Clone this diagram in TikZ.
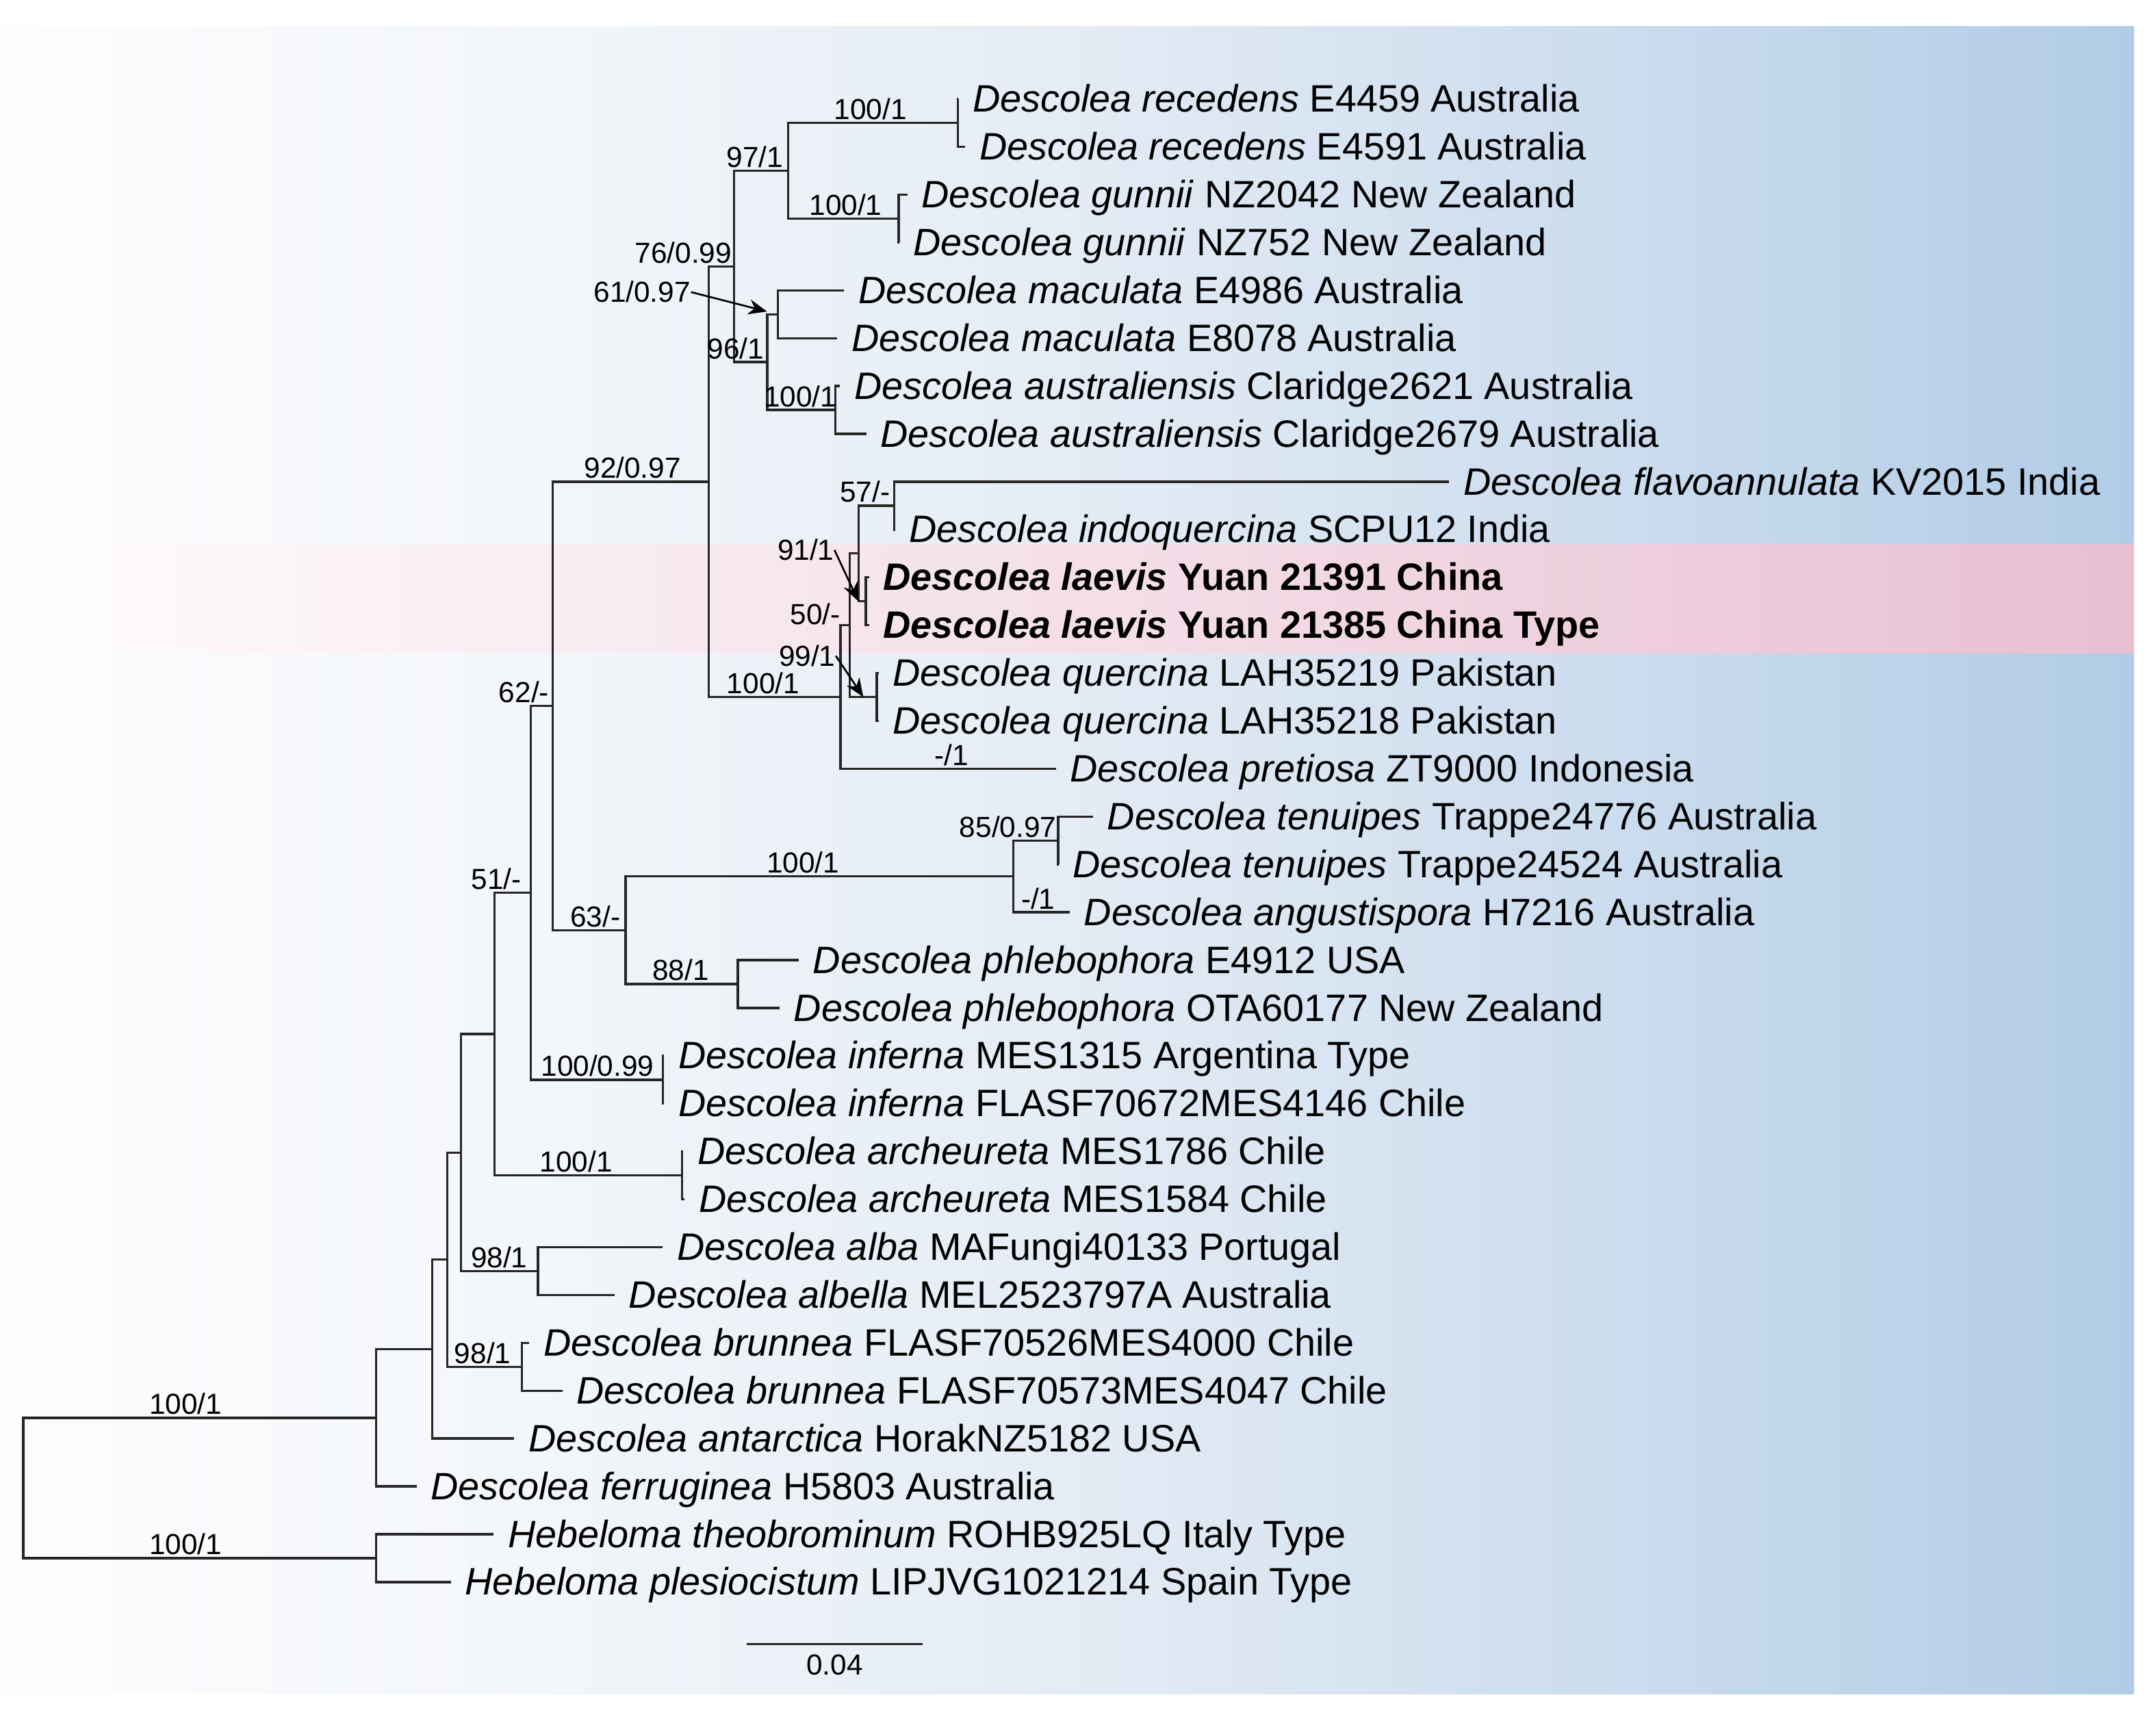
\documentclass[tikz,border=0pt]{standalone}
\usepackage{fontspec}
\setmainfont{Liberation Sans}
\usetikzlibrary{arrows.meta, calc}

\definecolor{linegray}{HTML}{262626}
\definecolor{bgA}{HTML}{FCFDFE}
\definecolor{bgB}{HTML}{F3F6FA}
\definecolor{bgC}{HTML}{E4ECF5}
\definecolor{bgD}{HTML}{CCDDEE}
\definecolor{bgE}{HTML}{B1CCE6}
\definecolor{pinkA}{HTML}{FDF9FB}
\definecolor{pinkB}{HTML}{F4DEE8}
\definecolor{pinkC}{HTML}{E8BFD1}

% path box is mapped onto 25bp..75bp
\pgfdeclarehorizontalshading{treebg}{100bp}{color(0bp)=(bgA); color(25bp)=(bgA); color(37.5bp)=(bgB); color(50bp)=(bgC); color(62.5bp)=(bgD); color(75bp)=(bgE); color(100bp)=(bgE)}
\pgfdeclarehorizontalshading{bandbg}{100bp}{color(0bp)=(pinkA); color(25bp)=(pinkA); color(50bp)=(pinkB); color(75bp)=(pinkC); color(100bp)=(pinkC)}

\begin{document}
\begin{tikzpicture}[x=0.02cm, y=-0.02cm,
    branch/.style={draw=linegray, line width=0.95pt},
    leaflab/.style={anchor=base west, inner sep=0pt, xshift=0.2cm, yshift=-0.19cm, font=\fontsize{15.8}{19}\selectfont},
    supp/.style={anchor=base, inner sep=0pt, font=\fontsize{12}{14}\selectfont},
    pointer/.style={draw=black, line width=0.75pt, -{Stealth[length=2.7mm, width=2.2mm]}}]
    % Units: 1 = one pixel of the 1568 x 1250 figure, y grows downwards.
    \useasboundingbox (0,0) rectangle (1568,1250);

    % Background panel and the highlighted rows of the new species
    \shade[shading=treebg] (0,19) rectangle (1552,1232);
    \shade[shading=bandbg] (83,396) rectangle (1552,475);

    % Leaf tips (row i sits at 72 + (i-1)*34.8) and their names
    \foreach \i/\x/\g/\s/\r in {
        1/697/Descolea/recedens/E4459 Australia,
        2/702/Descolea/recedens/E4591 Australia,
        3/660/Descolea/gunnii/NZ2042 New Zealand,
        4/654/Descolea/gunnii/NZ752 New Zealand,
        5/614/Descolea/maculata/E4986 Australia,
        6/609/Descolea/maculata/E8078 Australia,
        7/611/Descolea/australiensis/Claridge2621 Australia,
        8/630/Descolea/australiensis/Claridge2679 Australia,
        9/1054/Descolea/flavoannulata/KV2015 India,
        10/651/Descolea/indoquercina/SCPU12 India,
        13/639/Descolea/quercina/LAH35219 Pakistan,
        14/639/Descolea/quercina/LAH35218 Pakistan,
        15/768/Descolea/pretiosa/ZT9000 Indonesia,
        16/795/Descolea/tenuipes/Trappe24776 Australia,
        17/770/Descolea/tenuipes/Trappe24524 Australia,
        18/778/Descolea/angustispora/H7216 Australia,
        19/581/Descolea/phlebophora/E4912 USA,
        20/567/Descolea/phlebophora/OTA60177 New Zealand,
        21/483/Descolea/inferna/MES1315 Argentina Type,
        22/483/Descolea/inferna/FLASF70672MES4146 Chile,
        23/497/Descolea/archeureta/MES1786 Chile,
        24/498/Descolea/archeureta/MES1584 Chile,
        25/482/Descolea/alba/MAFungi40133 Portugal,
        26/447/Descolea/albella/MEL2523797A Australia,
        27/385/Descolea/brunnea/FLASF70526MES4000 Chile,
        28/409/Descolea/brunnea/FLASF70573MES4047 Chile,
        29/374/Descolea/antarctica/HorakNZ5182 USA,
        30/303/Descolea/ferruginea/H5803 Australia,
        31/359/Hebeloma/theobrominum/ROHB925LQ Italy Type,
        32/328/Hebeloma/plesiocistum/LIPJVG1021214 Spain Type}{
        \coordinate (l\i) at (\x,{72+(\i-1)*34.8});
        \node[leaflab] (t\i) at (l\i) {\textit{\g\ \s} \r};
    }
    \foreach \i/\r in {11/Yuan 21391 China, 12/Yuan 21385 China Type}{
        \coordinate (l\i) at (632,{72+(\i-1)*34.8});
        \node[leaflab, font=\fontsize{15.8}{19}\selectfont\bfseries] (t\i) at (l\i) {\textit{Descolea laevis} \r};
    }

    % Internal nodes
    \coordinate (root)  at (17,1082.35);
    \coordinate (D0)    at (273.5,1031.3);
    \coordinate (H)     at (273.5,1133.4);
    \coordinate (D1)    at (314.5,981.35);
    \coordinate (D2)    at (325.2,916.3);
    \coordinate (D3)    at (335.3,838.4);
    \coordinate (D4)    at (359.5,752.2);
    \coordinate (Nbrun) at (379.5,994.2);
    \coordinate (Nalba) at (391.2,924.6);
    \coordinate (Narch) at (496,855);
    \coordinate (D5)    at (386,649.45);
    \coordinate (Ninf)  at (482,785.4);
    \coordinate (D6)    at (402,513.5);
    \coordinate (D7)    at (515.3,350.4);
    \coordinate (D8)    at (455,676.65);
    \coordinate (Nten)  at (737,637.5);
    \coordinate (Nten2) at (769.6,611.4);
    \coordinate (Nphl)  at (536.6,715.8);
    \coordinate (Naus)  at (533.7,193.8);
    \coordinate (N97)   at (573.1,124.2);
    \coordinate (Nrec)  at (696.5,89.4);
    \coordinate (Ngun)  at (653.6,159);
    \coordinate (N96)   at (558,263.4);
    \coordinate (Nmac)  at (565.8,228.6);
    \coordinate (Nausl) at (607.5,298.2);
    \coordinate (Nasia) at (611.3,507);
    \coordinate (N50)   at (618,454.8);
    \coordinate (N91)   at (624.3,402.6);
    \coordinate (N57)   at (650.4,367.8);
    \coordinate (Nlaev) at (629.7,437.4);
    \coordinate (Nquer) at (637.7,507);

    % Branches: parent / upper child / lower child
    \foreach \p/\a/\b in {root/D0/H, H/l31/l32, D0/D1/l30, D1/D2/l29, D2/D3/Nbrun,
        Nbrun/l27/l28, D3/D4/Nalba, Nalba/l25/l26, D4/D5/Narch, Narch/l23/l24,
        D5/D6/Ninf, Ninf/l21/l22, D6/D7/D8, D8/Nten/Nphl, Nten/Nten2/l18,
        Nten2/l16/l17, Nphl/l19/l20, D7/Naus/Nasia, Naus/N97/N96, N97/Nrec/Ngun,
        Nrec/l1/l2, Ngun/l3/l4, N96/Nmac/Nausl, Nmac/l5/l6, Nausl/l7/l8,
        Nasia/N50/l15, N50/N91/Nquer, N91/N57/Nlaev, N57/l9/l10, Nlaev/l11/l12,
        Nquer/l13/l14}
        \draw[branch] (\a) -| (\p) |- (\b);

    % Support values (ML bootstrap / Bayesian PP)
    \node[supp] (sD0)   at (135,1028.8) {100/1};
    \node[supp] (sH)    at (135,1130.9) {100/1};
    \node[supp] (sBrun) at (351,991.7) {98/1};
    \node[supp] (sAlba) at (363,922.1) {98/1};
    \node[supp] (sArch) at (419,852.5) {100/1};
    \node[supp] (sInf)  at (434.5,782.9) {100/0.99};
    \node[supp] (sD5)   at (361,646.9) {51/-};
    \node[supp] (sD6)   at (381,511) {62/-};
    \node[supp] (sD8)   at (433,674.1) {63/-};
    \node[supp] (sPhl)  at (495,713.3) {88/1};
    \node[supp] (sTen)  at (584,635) {100/1};
    \node[supp] (sTen2) at (733,608.9) {85/0.97};
    \node[supp] (sAng)  at (755,661.1) {-/1};
    \node[supp] (sD7)   at (460,347.9) {92/0.97};
    \node[supp] (sAus)  at (497,191.3) {76/0.99};
    \node[supp] (s97)   at (549,121.7) {97/1};
    \node[supp] (sRec)  at (633,86.9) {100/1};
    \node[supp] (sGun)  at (615,156.5) {100/1};
    \node[supp] (s96)   at (535,260.9) {96/1};
    \node[supp] (sAusl) at (582,295.7) {100/1};
    \node[supp] (sAsia) at (555,504.5) {100/1};
    \node[supp] (sPre)  at (692,556.7) {-/1};
    \node[supp] (s50)   at (593,454) {50/-};
    \node[supp] (s57)   at (629,365.3) {57/-};
    \node[supp] (s61)   at (467,220) {61/0.97};
    \node[supp] (s91)   at (586,407.6) {91/1};
    \node[supp] (s99)   at (587,484.6) {99/1};

    % Pointers for values on very short branches
    \draw[pointer] (s61.east) -- ($(Nmac)+(-8,-2)$);
    \draw[pointer] (s91.east) -- (N91 |- Nlaev);
    \draw[pointer] (s99.east) -- ($(N50 |- Nquer)!.5!(Nquer)$);

    % Scale bar
    \coordinate (bar0) at (543,1196);
    \coordinate (bar1) at (671,1196);
    \draw[branch] (bar0) -- (bar1) node[supp, midway, anchor=north, yshift=-0.13cm] {0.04};
\end{tikzpicture}
\end{document}
